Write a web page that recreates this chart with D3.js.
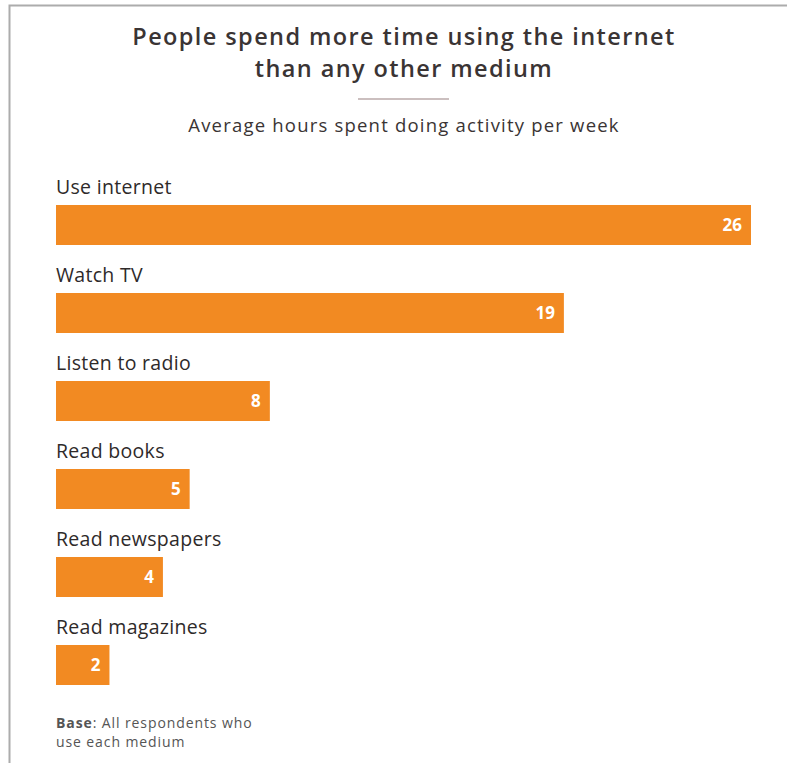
<!DOCTYPE html>
<html>
<head>
<meta charset="utf-8">
<script src="https://cdn.jsdelivr.net/npm/d3@7"></script>
<style>
  html, body { margin: 0; padding: 0; background: #fff; }
  svg { display: block; }
</style>
</head>
<body>
<svg id="chart" width="787" height="763"></svg>
<script>
// Weekly media use, average hours per activity
const categories = ["Use internet", "Watch TV", "Listen to radio", "Read books", "Read newspapers", "Read magazines"];
const hours = [26, 19, 8, 5, 4, 2];
const titleLines = ["People spend more time using the internet", "than any other medium"];
const subtitle = "Average hours spent doing activity per week";

const svg = d3.select("#chart");
const W = 787, H = 763;
const font = "'Open Sans', 'Noto Sans', sans-serif";
const orange = "#f28a22";

// frame lines on top and left
svg.append("path")
  .attr("d", `M9.5,${H} V5.5 H${W}`)
  .attr("fill", "none").attr("stroke", "#acacac").attr("stroke-width", 2);

// title
svg.append("g").selectAll("text").data(titleLines).join("text")
  .attr("x", 404).attr("y", (d, i) => 45 + i * 32)
  .attr("text-anchor", "middle")
  .attr("font-family", font).attr("font-weight", 600).attr("font-size", 23.5)
  .attr("letter-spacing", 1.4)
  .attr("fill", "#3a3434")
  .text(d => d);

svg.append("line")
  .attr("x1", 358).attr("x2", 449).attr("y1", 99).attr("y2", 99)
  .attr("stroke", "#cbbfbf").attr("stroke-width", 2);

svg.append("text")
  .attr("x", 404).attr("y", 132)
  .attr("text-anchor", "middle")
  .attr("font-family", font).attr("font-size", 18.5)
  .attr("letter-spacing", 1.2)
  .attr("fill", "#3a3434")
  .text(subtitle);

// scales
const x = d3.scaleLinear().domain([0, 26]).range([56, 751]);
const y = d3.scaleBand().domain(categories).range([181, 709]).paddingInner(0).paddingOuter(0);
const barTop = 24, barH = 40;

const rows = svg.append("g").selectAll("g").data(categories).join("g")
  .attr("transform", d => `translate(0,${y(d)})`);

rows.append("text")
  .attr("x", 56).attr("y", 13)
  .attr("font-family", font).attr("font-size", 19.5)
  .attr("letter-spacing", 0.3)
  .attr("fill", "#2e2a2a")
  .text(d => d);

rows.append("rect")
  .attr("x", x(0)).attr("y", barTop)
  .attr("width", (d, i) => x(hours[i]) - x(0))
  .attr("height", barH)
  .attr("fill", orange);

rows.append("text")
  .attr("x", (d, i) => x(hours[i]) - 9)
  .attr("y", barTop + barH / 2 + 6)
  .attr("text-anchor", "end")
  .attr("font-family", font).attr("font-weight", 700).attr("font-size", 17)
  .attr("fill", "#fff")
  .text((d, i) => hours[i]);

// footnote
const foot = svg.append("text")
  .attr("font-family", font).attr("font-size", 14).attr("fill", "#555")
  .attr("letter-spacing", 0.9);
foot.append("tspan").attr("x", 56).attr("y", 728)
  .attr("font-weight", 700).text("Base");
foot.append("tspan").text(": All respondents who");
foot.append("tspan").attr("x", 56).attr("y", 747).text("use each medium");
</script>
</body>
</html>
